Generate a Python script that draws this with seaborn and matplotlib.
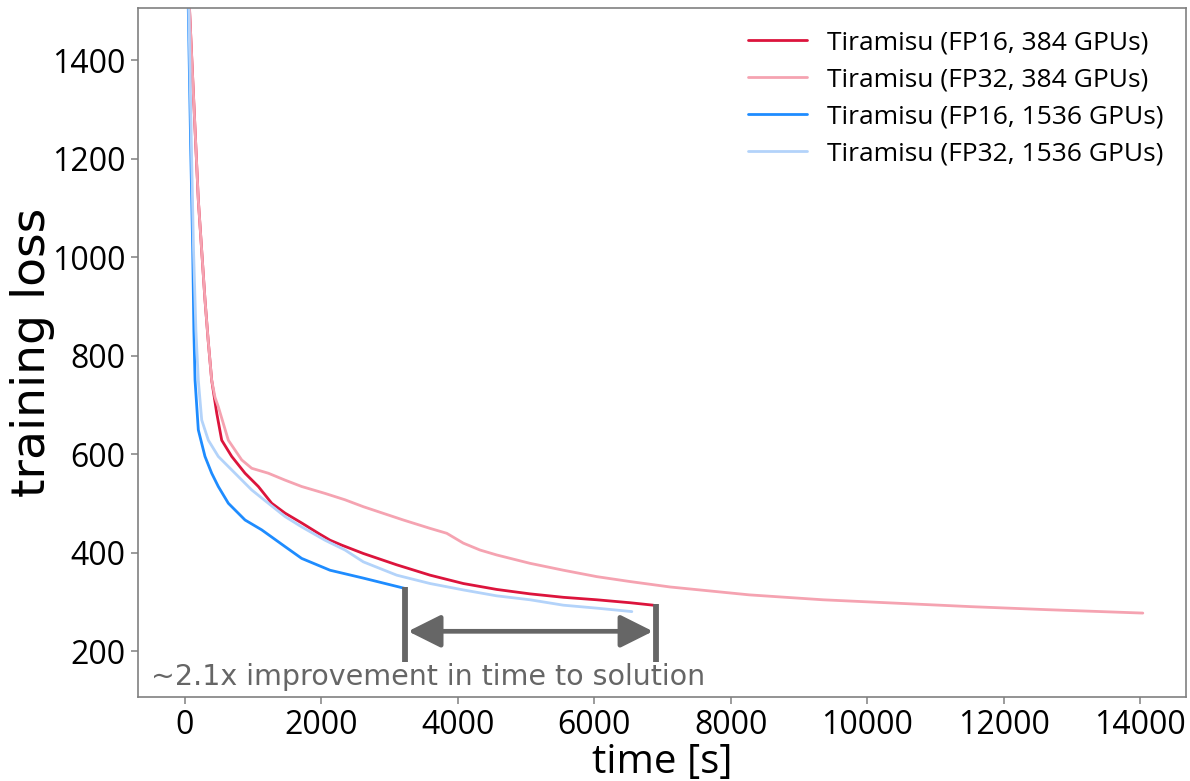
import matplotlib
matplotlib.use("Agg")
import matplotlib.pyplot as plt
import seaborn as sns
import pandas as pd

# ---- data ----
t_fp16_384 = [35, 88, 195, 293, 340, 391, 465, 538, 685, 880, 1075, 1271, 1466, 1710, 1955,
              2126, 2297, 2614, 3103, 3592, 4080, 4569, 5058, 5547, 6036, 6524, 6866]
loss_fp16_384 = [1600, 1437, 1116, 913, 830, 750, 683, 628, 595, 561, 534, 500, 480, 460, 439,
                 425, 415, 398, 375, 354, 337, 325, 316, 309, 304, 298, 293]

t_fp32_384 = [35, 88, 195, 293, 340, 391, 440, 488, 635, 831, 978, 1221, 1466, 1710, 2052,
              2346, 2614, 3200, 3592, 3837, 4080, 4325, 4569, 5058, 5547, 6036, 6524, 7110,
              8270, 9350, 10440, 11530, 12620, 14040]
loss_fp32_384 = [1600, 1437, 1116, 913, 830, 750, 715, 696, 628, 588, 571, 561, 547, 534, 520,
                 507, 493, 466, 449, 439, 419, 405, 395, 378, 364, 351, 341, 330,
                 314, 304, 297, 290, 284, 277]

t_fp16_1536 = [36, 48, 84, 113, 130, 147, 195, 293, 391, 488, 635, 880, 1124, 1466, 1710,
               2126, 2614, 3225]
loss_fp16_1536 = [1600, 1505, 1218, 1014, 850, 750, 649, 595, 561, 534, 500, 466, 446, 412, 388,
                  364, 348, 327]

t_fp32_1536 = [40, 55, 95, 125, 160, 195, 245, 342, 488, 733, 978, 1221, 1466, 1710, 2052,
               2346, 2614, 3103, 3592, 4080, 4569, 5058, 5547, 6036, 6550]
loss_fp32_1536 = [1600, 1505, 1218, 1014, 850, 750, 669, 628, 595, 561, 527, 500, 473, 452, 425,
                  405, 381, 354, 337, 324, 312, 304, 293, 287, 280]

labels = ["Tiramisu (FP16, 384 GPUs)", "Tiramisu (FP32, 384 GPUs)",
          "Tiramisu (FP16, 1536 GPUs)", "Tiramisu (FP32, 1536 GPUs)"]
colors = ["#DC143C", "#F5A3B1", "#1E8CFF", "#B3D3FA"]

x_ticks = [0, 2000, 4000, 6000, 8000, 10000, 12000, 14000]
y_ticks = [200, 400, 600, 800, 1000, 1200, 1400]

speedup_text = "~2.1x improvement in time to solution"

# ---- build long-form frame ----
frames = []
for lab, t, l in zip(labels,
                     [t_fp16_384, t_fp32_384, t_fp16_1536, t_fp32_1536],
                     [loss_fp16_384, loss_fp32_384, loss_fp16_1536, loss_fp32_1536]):
    frames.append(pd.DataFrame({"time": t, "loss": l, "run": lab}))
df = pd.concat(frames, ignore_index=True)

sns.set_style("white")
plt.rcParams["font.family"] = ["Open Sans", "DejaVu Sans"]
plt.rcParams["text.color"] = "black"
plt.rcParams["axes.labelcolor"] = "black"

fig = plt.figure(figsize=(11.9, 7.81), dpi=100)
ax = fig.add_axes([138 / 1190, 1 - 697 / 781, (1186 - 138) / 1190, (697 - 8) / 781])

sns.lineplot(data=df, x="time", y="loss", hue="run", hue_order=labels,
             palette=dict(zip(labels, colors)), estimator=None, sort=False,
             linewidth=2.0, ax=ax)

ax.set_xlim(-689, 14673)
ax.set_ylim(106.6, 1505.6)
ax.set_xticks(x_ticks)
ax.set_yticks(y_ticks)
ax.tick_params(axis="both", labelsize=23, length=5, width=1.1, color="#808080",
               labelcolor="black", direction="out", bottom=True, left=True, pad=4)
for s in ax.spines.values():
    s.set_color("#808080")
    s.set_linewidth(1.2)

ax.set_xlabel("time [s]", fontsize=29, color="black")
ax.xaxis.set_label_coords(0.5, -0.11, transform=ax.transAxes)
ax.xaxis.label.set_va("baseline")
ax.set_ylabel("training loss", fontsize=34, color="black", family="DejaVu Sans")
ax.yaxis.set_label_coords(-0.079, 0.5, transform=ax.transAxes)

# annotation: bracket + double arrow
gray = "#666666"
ax.plot([3230, 3230], [330, 178], color=gray, lw=4.2, solid_capstyle="butt")
ax.plot([6900, 6900], [296, 178], color=gray, lw=4.2, solid_capstyle="butt")
ax.annotate("", xy=(6860, 240), xytext=(3270, 240),
            arrowprops=dict(arrowstyle="<|-|>,head_length=1.0,head_width=0.5",
                            mutation_scale=20, color=gray, lw=3.4,
                            shrinkA=0, shrinkB=0))
ax.text(-500, 130, speedup_text, fontsize=20.5, color=gray, family="DejaVu Sans",
        ha="left", va="baseline")

leg = ax.legend(loc="upper right", frameon=False, fontsize=19, handlelength=2.25,
                handletextpad=0.75, labelspacing=0.45, borderaxespad=0.45)
for line in leg.get_lines():
    line.set_linewidth(2)
for txt in leg.get_texts():
    txt.set_color("black")

fig.savefig("out.png", dpi=100)
